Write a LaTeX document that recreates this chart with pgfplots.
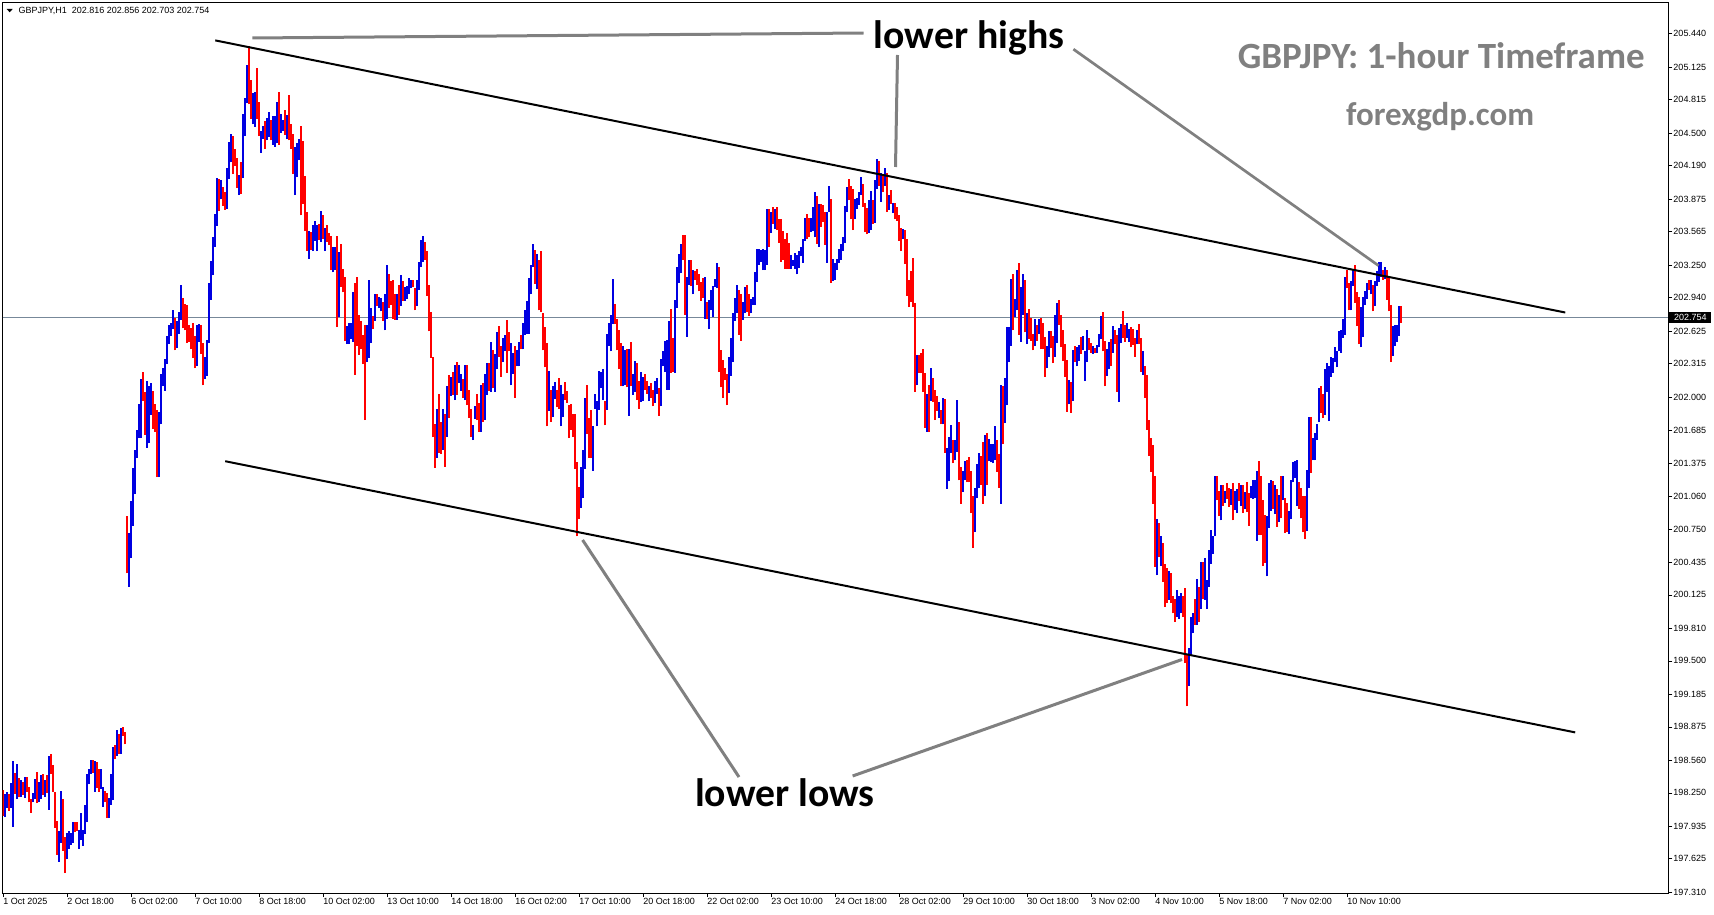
\documentclass[border=0pt]{standalone}
\usepackage{fontspec}
\setmainfont{Liberation Sans}
\newfontfamily\annot{Carlito}
\usepackage{pgfplots}
\usepackage{pgfplotstable}
\pgfplotsset{compat=1.18}
\definecolor{barblue}{RGB}{0,0,225}
\definecolor{barred}{RGB}{255,0,0}
\definecolor{pline}{RGB}{119,136,153}
\definecolor{anngray}{RGB}{128,128,128}
% columns: low, high, c (1 = up bar, blue; 0 = down bar, red)
\pgfplotstableread{
lo hi c
198.03 198.28 0
198.02 198.24 1
198.11 198.26 1
198.08 198.24 0
198.11 198.34 1
197.93 198.55 1
198.24 198.44 0
198.19 198.52 1
198.21 198.39 0
198.21 198.37 1
198.23 198.35 0
198.20 198.40 1
198.26 198.40 0
198.16 198.31 0
198.06 198.19 0
198.16 198.25 1
198.19 198.38 1
198.15 198.45 0
198.16 198.35 1
198.19 198.42 1
198.23 198.43 0
198.21 198.37 1
198.25 198.42 0
198.09 198.60 1
198.43 198.62 0
198.26 198.51 0
197.92 198.26 0
197.66 197.98 0
197.60 197.89 1
197.78 198.27 1
197.70 198.19 0
197.49 197.83 0
197.62 197.87 1
197.72 197.89 1
197.76 197.87 1
197.78 197.97 1
197.88 197.97 0
197.89 197.97 0
197.72 197.90 1
197.80 198.06 1
197.75 197.90 1
197.86 198.14 1
197.97 198.43 1
198.33 198.48 1
198.43 198.56 1
198.44 198.56 0
198.26 198.55 1
198.30 198.54 0
198.26 198.48 0
198.29 198.48 1
198.12 198.31 1
198.16 198.27 0
198.01 198.25 0
198.01 198.20 1
198.14 198.43 1
198.18 198.68 1
198.57 198.70 0
198.60 198.85 1
198.62 198.81 0
198.62 198.86 1
198.79 198.87 0
198.71 198.83 0
200.33 200.87 0
200.20 200.71 1
200.47 201.01 1
200.78 201.33 1
201.08 201.50 1
201.42 201.69 1
201.61 201.93 1
201.61 202.17 1
201.96 202.24 0
201.64 202.05 0
201.52 202.15 1
201.56 202.10 1
201.83 202.13 1
201.70 202.06 0
201.67 201.93 0
201.24 201.88 0
201.24 201.86 1
201.74 202.22 1
202.10 202.27 1
202.06 202.36 1
202.31 202.58 1
202.50 202.68 1
202.58 202.70 1
202.64 202.82 1
202.44 202.75 0
202.46 202.72 1
202.60 202.80 1
202.73 203.06 1
202.65 202.94 0
202.63 202.88 0
202.51 202.87 0
202.52 202.68 0
202.45 202.65 0
202.37 202.70 0
202.27 202.58 0
202.29 202.68 1
202.52 202.69 1
202.41 202.68 0
202.11 202.51 0
202.17 202.38 1
202.20 202.54 1
202.51 203.08 1
202.92 203.29 1
203.15 203.51 1
203.42 203.73 1
203.62 204.07 1
203.76 204.06 0
203.87 204.05 1
203.81 203.99 0
203.77 203.94 0
203.78 204.17 1
204.06 204.41 1
204.22 204.49 1
204.11 204.47 0
204.19 204.35 0
203.98 204.26 0
203.91 204.10 1
203.92 204.22 0
204.07 204.68 1
204.47 204.83 1
204.78 205.14 1
204.77 205.32 0
204.63 205.00 0
204.58 204.88 1
204.56 204.89 1
204.63 205.11 0
204.47 204.79 0
204.31 204.52 1
204.44 204.57 1
204.35 204.61 0
204.43 204.64 1
204.46 204.70 1
204.43 204.62 0
204.39 204.66 1
204.37 204.66 1
204.40 204.79 1
204.39 204.89 0
204.50 204.68 1
204.52 204.62 1
204.48 204.72 0
204.44 204.67 1
204.43 204.86 0
204.35 204.58 0
204.11 204.49 0
203.91 204.37 1
204.08 204.40 1
204.24 204.44 1
203.72 204.57 0
203.83 204.42 0
203.57 204.09 0
203.38 203.75 0
203.31 203.57 1
203.39 203.56 0
203.38 203.63 1
203.48 203.67 1
203.38 203.63 1
203.49 203.64 0
203.47 203.76 1
203.50 203.72 0
203.38 203.60 1
203.47 203.63 0
203.44 203.55 0
203.20 203.52 0
203.18 203.42 1
203.20 203.42 1
202.66 203.52 0
202.76 203.37 1
203.04 203.45 0
202.99 203.21 0
202.53 203.14 0
202.50 202.67 1
202.50 202.70 1
202.55 202.70 1
202.52 202.99 1
202.21 203.08 0
202.48 203.14 0
202.40 202.78 0
202.45 202.72 0
202.31 202.59 0
201.78 202.68 0
202.33 202.68 1
202.37 203.11 1
202.51 202.84 1
202.64 202.77 0
202.72 202.97 1
202.86 202.97 0
202.84 202.95 1
202.81 202.94 1
202.72 202.90 0
202.63 202.97 1
202.74 203.25 1
202.84 203.16 0
202.87 203.10 0
202.74 203.11 0
202.73 202.97 0
202.73 202.97 1
202.78 203.06 0
202.86 203.15 1
202.91 203.10 0
202.91 203.04 1
202.93 203.05 1
202.97 203.13 1
203.03 203.11 1
203.04 203.11 0
202.82 203.03 0
202.86 203.11 1
203.01 203.28 1
203.23 203.49 1
203.28 203.52 1
203.30 203.47 0
202.96 203.38 0
202.62 203.06 0
202.37 202.80 0
201.62 202.38 0
201.33 201.74 0
201.42 201.89 1
201.47 202.03 0
201.46 201.76 0
201.50 201.89 1
201.34 201.84 0
201.62 202.10 1
201.80 202.21 0
202.01 202.19 1
202.02 202.24 0
201.97 202.30 1
202.02 202.33 0
202.13 202.30 1
202.06 202.22 1
201.99 202.17 0
201.97 202.30 1
201.92 202.30 0
201.80 202.07 0
201.62 201.89 0
201.59 201.73 1
201.79 201.91 1
201.78 202.03 0
201.67 201.94 0
201.67 202.11 1
201.76 202.13 0
201.78 202.22 1
202.02 202.32 1
202.06 202.32 0
202.05 202.52 1
202.08 202.44 0
202.05 202.41 1
202.26 202.61 1
202.38 202.67 0
202.19 202.48 0
202.33 202.56 1
202.43 202.59 1
202.23 202.73 0
202.43 202.61 0
202.11 202.51 1
202.22 202.42 1
201.99 202.48 0
202.29 202.44 1
202.29 202.52 1
202.45 202.59 0
202.45 202.70 1
202.59 202.82 1
202.60 202.91 1
202.60 203.13 1
202.97 203.25 1
203.23 203.45 1
203.07 203.39 0
203.02 203.35 1
202.82 203.30 0
202.80 203.38 0
202.44 202.79 0
202.28 202.66 0
201.72 202.51 0
201.87 202.25 1
201.76 202.07 0
201.81 202.10 1
201.98 202.14 1
201.90 202.07 0
201.89 202.18 0
201.72 202.11 1
201.81 202.03 1
201.97 202.14 0
201.94 202.06 0
201.61 201.92 0
201.69 201.93 0
201.62 201.84 0
201.32 201.84 0
200.68 201.38 0
200.84 201.15 0
200.95 201.34 1
201.04 201.50 1
201.32 201.99 1
201.65 202.11 0
201.42 201.80 0
201.42 201.88 0
201.30 201.72 1
201.89 202.03 1
201.72 201.96 1
201.88 202.25 1
202.08 202.24 1
201.97 202.26 1
201.73 201.96 0
201.88 202.60 1
202.48 202.70 1
202.43 202.78 1
202.69 203.12 1
202.69 202.88 0
202.44 202.74 0
202.26 202.63 0
202.10 202.51 0
202.10 202.48 1
202.11 202.44 1
202.09 202.45 0
201.82 202.45 1
202.10 202.52 0
202.02 202.22 1
202.05 202.34 1
201.97 202.32 0
201.89 202.15 0
201.95 202.24 1
201.96 202.19 1
202.07 202.22 0
202.03 202.15 0
201.96 202.10 1
201.99 202.13 0
201.91 202.07 0
201.94 202.15 1
202.03 202.18 1
201.82 202.08 0
201.91 202.36 1
202.29 202.43 1
202.24 202.53 1
202.07 202.54 1
202.07 202.72 1
202.23 202.83 0
202.24 202.56 0
202.23 202.92 1
202.84 203.23 1
203.08 203.35 1
203.17 203.45 1
203.30 203.53 0
202.78 203.53 0
202.57 203.14 1
203.06 203.30 1
203.05 203.30 0
202.97 203.20 1
203.11 203.19 0
203.06 203.21 0
203.00 203.16 0
202.91 203.09 0
202.94 203.13 0
202.74 203.14 1
202.74 202.90 0
202.64 202.92 1
202.82 203.01 1
202.76 203.05 1
203.04 203.12 1
203.03 203.27 1
202.24 203.23 0
202.09 202.44 0
201.99 202.35 0
202.16 202.27 0
201.92 202.22 0
202.04 202.38 1
202.20 202.56 1
202.33 202.79 1
202.72 202.94 1
202.79 203.06 1
202.59 203.01 0
202.53 202.97 0
202.73 202.90 1
202.79 203.04 1
202.80 203.06 0
202.77 202.97 0
202.79 202.93 1
202.87 202.95 1
202.87 203.18 1
203.09 203.40 1
203.25 203.40 1
203.28 203.39 1
203.20 203.40 1
203.20 203.39 1
203.25 203.78 1
203.42 203.78 0
203.55 203.75 1
203.64 203.80 0
203.59 203.78 1
203.58 203.80 0
203.46 203.68 0
203.28 203.68 0
203.30 203.57 0
203.21 203.50 0
203.21 203.55 0
203.21 203.46 0
203.21 203.34 1
203.24 203.30 1
203.21 203.36 1
203.16 203.34 1
203.22 203.38 1
203.33 203.42 1
203.27 203.50 1
203.48 203.69 1
203.50 203.73 0
203.51 203.69 0
203.56 203.69 1
203.57 203.80 1
203.51 203.94 1
203.45 203.90 0
203.42 203.83 1
203.61 203.83 0
203.66 203.82 0
203.44 203.75 0
203.27 203.75 1
203.75 204.00 1
203.08 203.87 0
203.10 203.31 1
203.11 203.27 1
203.20 203.31 1
203.27 203.40 1
203.30 203.45 1
203.38 203.51 1
203.46 203.81 1
203.75 203.99 1
203.86 204.06 0
203.68 204.00 0
203.58 203.97 0
203.68 203.87 1
203.78 203.88 1
203.82 203.94 1
203.91 204.08 1
203.80 204.02 0
203.56 203.84 0
203.54 203.79 0
203.55 203.86 1
203.58 203.95 1
203.64 203.86 0
203.65 204.05 1
203.97 204.25 1
204.00 204.23 0
203.85 204.12 1
203.94 204.09 0
204.00 204.17 1
203.75 204.12 0
203.77 203.91 1
203.83 203.96 0
203.74 203.84 1
203.68 203.84 0
203.67 203.80 0
203.48 203.72 0
203.38 203.60 0
203.50 203.59 1
203.26 203.58 0
202.96 203.50 0
202.85 203.11 0
202.90 203.19 0
202.85 203.32 0
202.05 202.89 0
202.11 202.40 1
202.23 202.40 0
202.23 202.42 0
202.05 202.45 0
201.71 202.23 0
201.67 202.03 1
201.67 202.11 0
201.96 202.27 1
201.95 202.18 0
201.78 202.07 0
201.87 202.01 0
201.80 201.95 1
201.74 201.88 0
201.74 201.99 1
201.47 201.98 0
201.13 201.52 1
201.20 201.62 1
201.47 201.73 1
201.37 201.59 0
201.40 201.59 1
201.48 201.97 1
201.21 201.76 0
200.99 201.34 0
201.10 201.30 1
201.21 201.39 1
201.19 201.40 0
201.19 201.43 0
200.90 201.30 0
200.57 201.06 0
200.72 201.14 1
201.04 201.36 1
201.14 201.47 1
201.17 201.44 0
200.99 201.57 0
201.06 201.64 1
201.17 201.66 0
201.39 201.60 1
201.38 201.55 1
201.37 201.55 1
201.40 201.72 1
201.29 201.59 0
201.14 201.46 0
200.99 202.11 1
201.55 202.10 0
201.75 202.18 1
201.92 202.66 1
202.33 202.66 1
202.48 203.12 1
202.63 203.16 0
202.76 202.93 1
202.82 203.20 1
202.59 203.27 0
202.52 203.04 1
202.78 203.16 1
202.61 203.11 0
202.50 202.79 1
202.55 202.83 0
202.53 202.75 0
202.44 202.60 0
202.48 202.74 1
202.53 202.68 0
202.60 202.74 1
202.45 202.75 0
202.45 202.70 0
202.19 202.57 0
202.27 202.48 1
202.38 202.62 1
202.46 202.62 0
202.32 202.58 0
202.38 202.78 1
202.51 202.89 1
202.68 202.92 0
202.47 202.78 0
202.34 202.63 0
202.19 202.50 0
201.86 202.35 0
201.93 202.16 1
201.85 202.14 0
201.96 202.44 1
202.33 202.48 0
202.29 202.47 1
202.34 202.49 1
202.41 202.57 0
202.44 202.58 1
202.15 202.43 1
202.33 202.63 1
202.44 202.56 0
202.42 202.51 0
202.41 202.48 1
202.42 202.46 0
202.42 202.49 1
202.47 202.60 1
202.55 202.77 1
202.43 202.80 0
202.10 202.53 0
202.20 202.45 1
202.26 202.52 1
202.29 202.55 0
202.42 202.67 1
202.50 202.63 0
202.05 202.59 0
201.95 202.65 1
202.51 202.69 1
202.56 202.81 0
202.52 202.68 0
202.56 202.70 1
202.52 202.64 1
202.47 202.66 0
202.49 202.64 0
202.38 202.56 0
202.50 202.63 1
202.50 202.69 0
202.24 202.56 0
202.21 202.43 1
201.99 202.29 0
201.69 202.21 0
201.44 201.78 0
201.29 201.61 0
200.99 201.54 0
200.39 201.25 0
200.31 200.84 1
200.48 200.81 0
200.40 200.68 1
200.25 200.62 0
200.01 200.42 0
200.05 200.38 0
200.08 200.35 1
200.05 200.33 0
199.95 200.11 0
199.87 200.09 0
199.92 200.17 1
199.90 200.11 1
199.95 200.14 1
199.92 200.11 0
199.48 200.19 0
199.07 199.57 0
199.26 199.62 1
199.55 199.92 1
199.76 199.95 1
199.84 200.09 0
199.84 200.28 1
199.87 200.20 0
199.99 200.44 1
200.09 200.44 0
200.08 200.47 1
199.99 200.27 1
200.20 200.55 1
200.42 200.74 1
200.51 200.68 1
200.68 201.25 1
201.02 201.25 0
200.87 201.11 0
200.83 201.17 1
200.97 201.17 0
201.00 201.11 1
201.03 201.18 0
200.96 201.14 0
200.98 201.13 1
200.83 201.18 0
200.93 201.11 1
200.90 201.13 1
201.01 201.18 0
200.97 201.17 1
200.90 201.17 0
200.94 201.10 1
200.91 201.19 0
200.78 201.09 0
201.04 201.16 1
201.03 201.21 1
201.04 201.21 1
200.64 201.30 1
200.69 201.39 0
200.69 201.25 0
200.40 201.02 0
200.43 200.88 0
200.30 200.87 1
200.76 201.18 1
200.92 201.21 1
200.94 201.20 0
200.89 201.17 1
200.77 201.13 0
200.82 201.07 1
200.85 201.25 0
201.02 201.25 1
200.71 201.04 0
200.72 201.00 0
200.70 200.92 1
200.84 201.21 1
201.19 201.38 1
201.23 201.39 1
200.97 201.40 1
200.94 201.19 0
200.85 201.14 0
200.72 201.06 0
200.65 201.06 0
200.73 201.31 1
201.14 201.81 1
201.28 201.81 0
201.40 201.61 1
201.40 201.66 1
201.59 201.74 1
201.76 202.08 1
201.85 202.10 0
201.80 202.03 0
201.83 202.26 1
202.05 202.32 1
201.77 202.29 1
202.19 202.38 1
202.23 202.37 1
202.33 202.47 1
202.28 202.43 1
202.43 202.62 1
202.42 202.63 1
202.56 202.74 1
202.59 203.14 1
203.03 203.20 0
202.82 203.08 0
202.82 203.10 1
203.05 203.20 1
202.89 203.25 0
202.67 202.99 0
202.50 202.95 0
202.47 202.85 1
202.57 202.95 1
202.87 203.00 1
202.93 203.08 1
203.01 203.11 0
202.97 203.11 1
202.81 203.06 0
202.86 203.10 1
203.05 203.19 1
203.09 203.28 1
203.14 203.28 1
203.11 203.20 0
203.12 203.23 1
202.92 203.20 0
202.81 203.14 0
202.33 202.87 0
202.39 202.67 1
202.48 202.68 1
202.52 202.68 1
202.58 202.86 1
202.70 202.86 0
}\bars
\begin{document}
\begin{tikzpicture}
\useasboundingbox (0,0) rectangle (1714pt,-915pt);
\begin{axis}[
  at={(2.5pt,-893pt)}, anchor=south west,
  scale only axis, width=1665.8pt, height=890.3pt,
  xmin=-0.35, xmax=832.55, ymin=197.302, ymax=205.733,
  axis line style={line width=1pt, black},
  xtick={0,32,...,672},
  xticklabels={1 Oct 2025, 2 Oct 18:00, 6 Oct 02:00, 7 Oct 10:00, 8 Oct 18:00, 10 Oct 02:00, 13 Oct 10:00, 14 Oct 18:00, 16 Oct 02:00, 17 Oct 10:00, 20 Oct 18:00, 22 Oct 02:00, 23 Oct 10:00, 24 Oct 18:00, 28 Oct 02:00, 29 Oct 10:00, 30 Oct 18:00, 3 Nov 02:00, 4 Nov 10:00, 5 Nov 18:00, 7 Nov 02:00, 10 Nov 10:00},
  ytick={205.440,205.125,204.815,204.500,204.190,203.875,203.565,203.250,202.940,202.625,202.315,202.000,201.685,201.375,201.060,200.750,200.435,200.125,199.810,199.500,199.185,198.875,198.560,198.250,197.935,197.625,197.310},
  yticklabels={205.440,205.125,204.815,204.500,204.190,203.875,203.565,203.250,202.940,202.625,202.315,202.000,201.685,201.375,201.060,200.750,200.435,200.125,199.810,199.500,199.185,198.875,198.560,198.250,197.935,197.625,197.310},
  xtick pos=left, ytick pos=right, yticklabel pos=right,
  tick align=outside, major tick length=4pt,
  tick style={black, line width=0.8pt},
  xticklabel style={font=\fontsize{9}{10}\selectfont, anchor=north west, inner sep=0pt, xshift=0pt, yshift=-1pt},
  yticklabel style={font=\fontsize{9}{10}\selectfont, anchor=west, inner sep=0pt, xshift=1pt},
  colormap={updown}{color=(barred) color=(barblue)},
  point meta min=0, point meta max=1,
  clip=true,
]
\addplot[pline, line width=1pt] coordinates {(-0.35,202.754) (832.55,202.754)};
\addplot[line width=1.5pt, point meta=\thisrow{c},
  quiver={u=0, v=\thisrow{hi}-\thisrow{lo}, colored}]
  table[x expr=\coordindex, y=lo] {\bars};
\addplot[black, line width=2pt] coordinates {(106.05,205.376) (781.05,202.799)};
\addplot[black, line width=2pt] coordinates {(111.0,201.391) (786.0,198.823)};
\end{axis}
% price box
\fill[black] (1669pt,-312pt) rectangle (1711pt,-323pt);
\node[anchor=west, text=white, inner sep=0pt, font=\fontsize{9}{10}\selectfont] at (1674pt,-317.5pt) {202.754};
% info line
\fill[black] (6.7pt,-9pt) -- (12.7pt,-9pt) -- (9.7pt,-12.3pt) -- cycle;
\node[anchor=base west, inner sep=0pt, font=\fontsize{9}{10}\selectfont] at (18.3pt,-13.3pt) {GBPJPY,H1\ \ 202.816 202.856 202.703 202.754};
% annotation lines
\draw[anngray, line width=3pt] (252.3pt,-38pt) -- (863.5pt,-33pt);
\draw[anngray, line width=3pt] (897.5pt,-55pt) -- (895.5pt,-167pt);
\draw[anngray, line width=2.7pt] (1073.4pt,-49.2pt) -- (1378.5pt,-265.6pt);
\draw[anngray, line width=3pt] (582.6pt,-540pt) -- (739pt,-777pt);
\draw[anngray, line width=3pt] (852.6pt,-776pt) -- (1182pt,-659.5pt);
% texts
\node[anchor=base, inner sep=0pt, font=\annot\bfseries\fontsize{39.7}{42}\selectfont] at (969pt,-49pt) {lower highs};
\node[anchor=base, inner sep=0pt, font=\annot\bfseries\fontsize{39.7}{42}\selectfont] at (784.8pt,-806.5pt) {lower lows};
\node[anchor=base, inner sep=0pt, text=anngray, font=\annot\bfseries\fontsize{37}{40}\selectfont] at (1441.3pt,-69pt) {GBPJPY: 1-hour Timeframe};
\node[anchor=base, inner sep=0pt, text=anngray, font=\annot\bfseries\fontsize{33}{36}\selectfont] at (1440.2pt,-125.7pt) {forexgdp.com};
\end{tikzpicture}
\end{document}
